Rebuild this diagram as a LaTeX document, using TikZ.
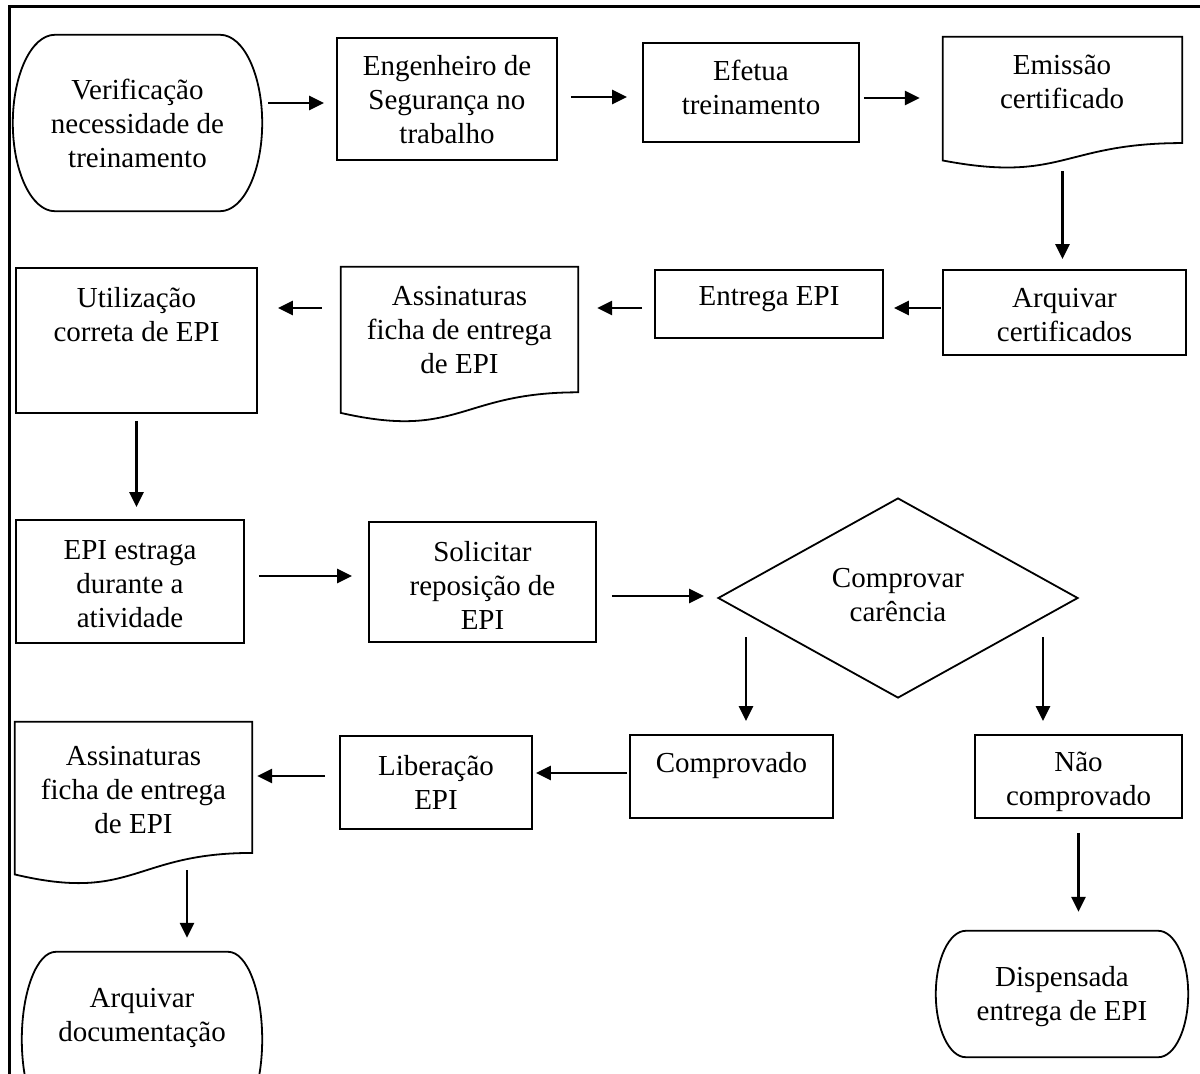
\documentclass[tikz,border=0pt]{standalone}
\usepackage{fontspec}
\setmainfont{Liberation Serif}
\usetikzlibrary{arrows.meta,shapes.geometric}

\tikzset{
  outline/.style={draw=black, line width=1.8pt},
  box/.style={outline, rectangle, inner sep=0pt},
  holder/.style={rectangle, inner sep=0pt, draw=none},
  decision/.style={outline, diamond, inner sep=0pt},
  txt/.style={align=center, inner sep=0pt, font=\fontsize{29}{34}\selectfont},
  arr/.style={line width=2.7pt, -{Triangle[length=15pt,width=14pt]}},
}

% terminator outline: #1 node, #2 horizontal radius of the end curves, #3 vertical control length
\newcommand\termoutline[3]{%
  \draw[outline] ([xshift=#2]#1.north west) -- ([xshift=-#2]#1.north east)
    .. controls ([xshift=-0.448*#2]#1.north east) and ([yshift=#3]#1.east) .. (#1.east)
    .. controls ([yshift=-#3]#1.east) and ([xshift=-0.448*#2]#1.south east) .. ([xshift=-#2]#1.south east)
    -- ([xshift=#2]#1.south west)
    .. controls ([xshift=0.448*#2]#1.south west) and ([yshift=-#3]#1.west) .. (#1.west)
    .. controls ([yshift=#3]#1.west) and ([xshift=0.448*#2]#1.north west) .. ([xshift=#2]#1.north west)
    -- cycle;}

% document outline with wavy bottom: #1 node, #2 node height
\newcommand\docoutline[2]{%
  \draw[outline] (#1.north west) -- (#1.north east) -- ([yshift=0.198*#2]#1.south east)
    .. controls ([yshift=0.198*#2]#1.south) and ([yshift=-0.107*#2]#1.south)
    .. ([yshift=0.066*#2]#1.south west) -- cycle;}

\begin{document}
\begin{tikzpicture}[x=1pt,y=-1pt]
\useasboundingbox (0,0) rectangle (1200,1074);

% page frame
\draw[line width=3pt] (9,1090) -- (9,6) -- (1215,6);

% shapes
\node[holder, minimum width=249pt, minimum height=176pt] (start) at (137.5,123) {};
\node[box, minimum width=220pt, minimum height=122pt] (eng) at (447,99) {};
\node[box, minimum width=216pt, minimum height=99pt] (efetua) at (751,92.5) {};
\node[holder, minimum width=239pt, minimum height=132pt] (emissao) at (1062.5,103) {};
\node[box, minimum width=243pt, minimum height=85pt] (arquivar) at (1064.5,312.5) {};
\node[box, minimum width=228pt, minimum height=68pt] (entrega) at (769,304) {};
\node[holder, minimum width=237pt, minimum height=156pt] (assin1) at (459.5,345) {};
\node[box, minimum width=241pt, minimum height=145pt] (util) at (136.5,340.5) {};
\node[box, minimum width=228pt, minimum height=123pt] (estraga) at (130,581.5) {};
\node[box, minimum width=227pt, minimum height=120pt] (solicitar) at (482.5,582) {};
\node[decision, minimum width=360pt, minimum height=200pt] (comprovar) at (898,598) {};
\node[box, minimum width=203pt, minimum height=83pt] (comprovado) at (731.5,776.5) {};
\node[box, minimum width=207pt, minimum height=83pt] (naocomp) at (1078.5,776.5) {};
\node[holder, minimum width=252pt, minimum height=126pt] (disp) at (1062,994) {};
\node[box, minimum width=192pt, minimum height=93pt] (liberacao) at (436,782.5) {};
\node[holder, minimum width=237pt, minimum height=163pt] (assin2) at (133.5,803.5) {};
\node[holder, minimum width=240pt, minimum height=175pt] (archdoc) at (142,1039.5) {};

\termoutline{start}{42pt}{48.6pt}
\termoutline{disp}{30pt}{34.8pt}
\termoutline{archdoc}{34pt}{48.3pt}
\docoutline{emissao}{132pt}
\docoutline{assin1}{156pt}
\docoutline{assin2}{163pt}

% labels
\node[txt] (startT) at (137.5,123) {Verificação\\necessidade de\\treinamento};
\node[txt] (engT) at (447,100) {Engenheiro de\\Segurança no\\trabalho};
\node[txt] (efetuaT) at (751,87) {Efetua\\treinamento};
\node[txt] (emissaoT) at (1062,82) {Emissão\\certificado};
\node[txt] (arquivarT) at (1064.5,315) {Arquivar\\certificados};
\node[txt] (entregaT) at (769,299) {Entrega EPI};
\node[txt] (assin1T) at (459.5,330) {Assinaturas\\ficha de entrega\\de EPI};
\node[txt] (utilT) at (136.5,315) {Utilização\\correta de EPI};
\node[txt] (estragaT) at (130,584) {EPI estraga\\durante a\\atividade};
\node[txt] (solicitarT) at (482.5,585) {Solicitar\\reposição de\\EPI};
\node[txt] (comprovarT) at (898,595) {Comprovar\\carência};
\node[txt] (comprovadoT) at (731.5,766) {Comprovado};
\node[txt] (naocompT) at (1078.5,782) {Não\\comprovado};
\node[txt] (dispT) at (1062,997) {Dispensada\\entrega de EPI};
\node[txt] (liberacaoT) at (436,782) {Liberação\\EPI};
\node[txt] (assin2T) at (133.5,790) {Assinaturas\\ficha de entrega\\de EPI};
\node[txt] (archdocT) at (142,1018) {Arquivar\\documentação};

% connectors
\draw[arr, shorten <=6pt, shorten >=12pt] (start.east |- 0,103) -- (eng.west |- 0,103);
\draw[arr, shorten <=13pt, shorten >=15pt] (eng.east |- 0,97) -- (efetua.west |- 0,97);
\draw[arr, shorten <=4pt, shorten >=23pt] (efetua.east |- 0,98) -- (emissao.west |- 0,98);
\draw[arr, shorten <=2pt, shorten >=10pt] (emissao.south) -- (emissao.south |- arquivar.north);
\draw[arr, shorten <=1pt, shorten >=10pt] (arquivar.west |- 0,308) -- (entrega.east |- 0,308);
\draw[arr, shorten <=12pt, shorten >=19pt] (entrega.west |- 0,308) -- (assin1.east |- 0,308);
\draw[arr, shorten <=19pt, shorten >=20pt] (assin1.west |- 0,308) -- (util.east |- 0,308);
\draw[arr, shorten <=7pt, shorten >=12pt] (util.south) -- (util.south |- estraga.north);
\draw[arr, shorten <=14pt, shorten >=16pt] (estraga.east |- 0,576) -- (solicitar.west |- 0,576);
\draw[arr, shorten <=15pt, shorten >=13pt] (solicitar.east |- 0,596) -- (comprovar.west |- 0,596);
\coordinate (yesout) at (746,637);
\coordinate (noout) at (1043,637);
\draw[arr, shorten >=13pt] (yesout) -- (yesout |- comprovado.north);
\draw[arr, shorten >=13pt] (noout) -- (noout |- naocomp.north);
\draw[arr, shorten <=2pt, shorten >=3pt] (comprovado.west |- 0,773) -- (liberacao.east |- 0,773);
\draw[arr, shorten <=14pt, shorten >=5pt] (liberacao.west |- 0,776) -- (assin2.east |- 0,776);
\coordinate (signout) at (187,870);
\draw[arr, shorten >=14pt] (signout) -- (signout |- archdoc.north);
\draw[arr, shorten <=14pt, shorten >=19pt] (naocomp.south) -- (naocomp.south |- disp.north);
\end{tikzpicture}
\end{document}
